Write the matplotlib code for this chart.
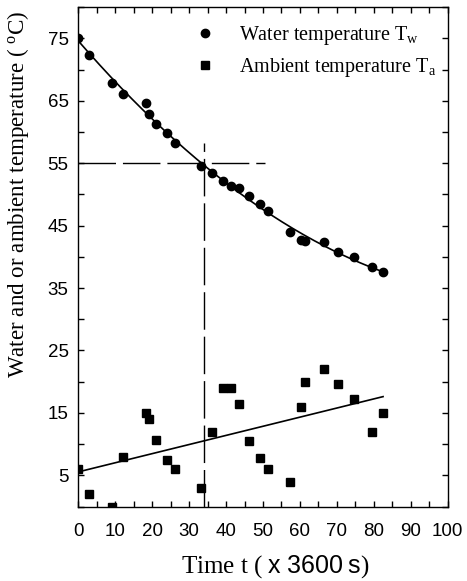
import numpy as np
import matplotlib
matplotlib.use("Agg")
import matplotlib.pyplot as plt
from matplotlib.ticker import MultipleLocator

plt.rcParams["font.family"] = "Liberation Sans"
plt.rcParams["mathtext.fontset"] = "custom"
plt.rcParams["mathtext.rm"] = "Liberation Serif"
plt.rcParams["mathtext.it"] = "Liberation Serif:italic"
plt.rcParams["mathtext.sf"] = "Liberation Sans"

# water temperature readings
t_water = [0, 3, 9.1, 12, 18.2, 19.1, 21.1, 24.1, 26.2, 33.2, 36.2, 39.2, 41.2,
           43.4, 46.3, 49.3, 51.3, 57.3, 60.2, 61.4, 66.5, 70.4, 74.5, 79.5, 82.5]
T_water = [75.0, 72.4, 67.9, 66.1, 64.7, 62.8, 61.3, 59.8, 58.3, 54.6, 53.4, 52.2, 51.3,
           51.1, 49.7, 48.5, 47.3, 43.9, 42.7, 42.6, 42.4, 40.7, 39.9, 38.3, 37.6]

# ambient temperature readings
t_amb = [0, 3, 9.1, 12, 18.2, 19.1, 21.1, 24.1, 26.2, 33.2, 36.2, 39.2, 41.2,
         43.4, 46.3, 49.3, 51.3, 57.3, 60.2, 61.4, 66.5, 70.4, 74.5, 79.5, 82.5]
T_amb = [6.0, 2.0, 0.0, 8.0, 15.0, 14.0, 10.7, 7.5, 6.0, 2.9, 12.0, 19.0, 19.0,
         16.4, 10.5, 7.7, 6.0, 3.9, 16.0, 20.0, 22.0, 19.7, 17.2, 12.0, 15.0]

# reading of half-temperature point
t_half = 34
T_half = 55

# fitted curves
pw = np.polyfit(t_water, T_water, 2)
pa = np.polyfit(t_amb, T_amb, 1)
tt = np.linspace(0, 82.5, 200)

fig = plt.figure(figsize=(4.67, 5.81), dpi=100)
ax = fig.add_axes([0.1677, 0.1282, 0.791, 0.8596])

ax.plot(tt, np.polyval(pw, tt), color="black", lw=1.2)
ax.plot(tt, np.polyval(pa, tt), color="black", lw=1.2)
ax.plot(t_water, T_water, "o", color="black", ms=6, label=r"Water temperature $\mathrm{T_w}$")
ax.plot(t_amb, T_amb, "s", color="black", ms=5.5, label=r"Ambient temperature $\mathrm{T_a}$")

ax.plot([0, 50.5], [T_half, T_half], color="black", lw=1, dashes=(27, 5))
ax.plot([t_half, t_half], [0, 58.3], color="black", lw=1, dashes=(27, 5))

ax.set_xlim(0, 100)
ax.set_ylim(0, 80)
ax.xaxis.set_major_locator(MultipleLocator(10))
ax.xaxis.set_minor_locator(MultipleLocator(5))
ax.set_yticks([5, 15, 25, 35, 45, 55, 65, 75])
ax.set_yticks(np.arange(0, 81, 5), minor=True)
ax.tick_params(which="both", direction="in", top=True, right=True, length=4, width=1)
ax.tick_params(axis="x", labelsize=13.5, pad=12)
ax.tick_params(axis="y", labelsize=13.5, pad=7)
for s in ax.spines.values():
    s.set_linewidth(1)

leg = ax.legend(loc="upper left", bbox_to_anchor=(0.316, 0.966), frameon=False,
                prop={"family": "Liberation Serif", "size": 14.5}, handletextpad=1.2,
                handlelength=1.0, labelspacing=0.45, borderpad=0, borderaxespad=0)

fig.text(18 / 467, 1 - 194 / 581, r"Water and or ambient temperature ( $^\mathrm{o}$C)",
         rotation=90, ha="center", va="center", family="Liberation Serif", fontsize=16.6)
fig.text(275 / 467, 1 - 567 / 581, r"Time t ( $\mathsf{x\ 3600\ s}$)",
         ha="center", va="center", family="Liberation Serif", fontsize=18)

fig.savefig("out.png", dpi=100)
